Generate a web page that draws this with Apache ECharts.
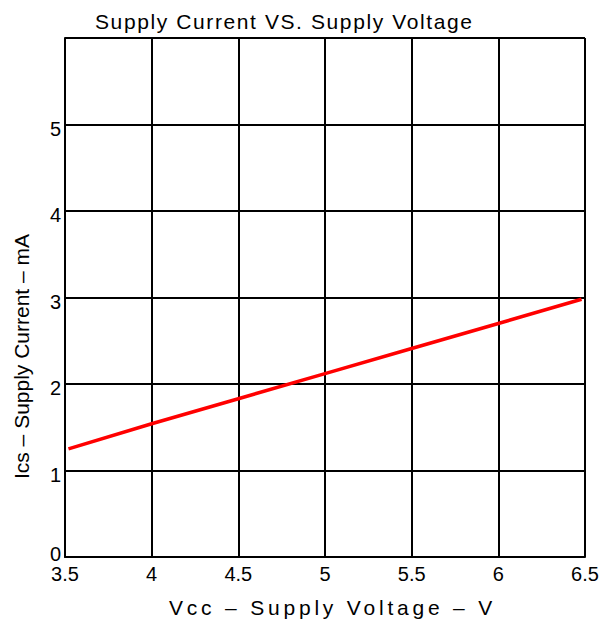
<!DOCTYPE html>
<html>
<head>
<meta charset="utf-8">
<script src="https://cdn.jsdelivr.net/npm/echarts@6/dist/echarts.min.js"></script>
<style>
  html, body { margin: 0; padding: 0; background: #fff; }
  #chart { width: 608px; height: 623px; }
</style>
</head>
<body>
<div id="chart"></div>
<script>
// supply voltage (V) and supply current (mA)
const vcc = [3.52, 4, 4.5, 5, 5.5, 6, 6.48];
const icc = [1.25, 1.54, 1.83, 2.12, 2.41, 2.70, 2.98];

const titleText = 'Supply Current VS. Supply Voltage';
const xName = 'Vcc \u2013 Supply Voltage \u2013 V';
const yName = 'Ics \u2013 Supply Current \u2013 mA';

const font = 'Liberation Sans, Arial, sans-serif';

const chart = echarts.init(document.getElementById('chart'), null, { renderer: 'svg' });

chart.setOption({
    animation: false,
    backgroundColor: '#fff',
    title: {
        text: titleText,
        left: 90,
        top: 6,
        textStyle: { fontFamily: font, fontSize: 21, fontWeight: 'normal', color: '#000' }
    },
    grid: { left: 65, right: 23, top: 38, bottom: 63 },
    xAxis: {
        type: 'value',
        min: 3.5,
        max: 6.5,
        interval: 0.5,
        name: xName,
        nameLocation: 'middle',
        nameGap: 40,
        nameTextStyle: { fontFamily: font, fontSize: 21, color: '#000', padding: [0, 0, 0, 15] },
        axisLine: { lineStyle: { color: '#000', width: 2 } },
        axisTick: { show: false },
        axisLabel: { fontFamily: font, fontSize: 20, color: '#000', margin: 7 },
        splitLine: { show: true, lineStyle: { color: '#000', width: 2 } }
    },
    yAxis: {
        type: 'value',
        min: 0,
        max: 6,
        interval: 1,
        name: yName,
        nameLocation: 'middle',
        nameGap: 33,
        nameTextStyle: { fontFamily: font, fontSize: 21, color: '#000', padding: [0, 118, 0, 0] },
        axisLine: { show: true, lineStyle: { color: '#000', width: 2 } },
        axisTick: { show: false },
        axisLabel: {
            fontFamily: font, fontSize: 20, color: '#000', margin: 4,
            formatter: v => (v === 6 ? '' : v === 0 ? '{z|0}' : '{d|' + v + '}'),
            rich: {
                z: { fontFamily: font, fontSize: 20, color: '#000', padding: [0, 0, 6, 0] },
                d: { fontFamily: font, fontSize: 20, color: '#000', padding: [8, 0, 0, 0] }
            }
        },
        splitLine: { show: true, lineStyle: { color: '#000', width: 2 } }
    },
    series: [{
        type: 'line',
        data: vcc.map((v, i) => [v, icc[i]]),
        showSymbol: false,
        lineStyle: { color: '#ff0000', width: 3.5 },
        z: 5
    }]
});

// the original lettering is widely spaced; svg text takes letter-spacing
const spacing = {};
spacing[titleText] = '1.6px';
spacing[xName] = '3.8px';
function applySpacing() {
    document.querySelectorAll('#chart text').forEach(t => {
        const s = spacing[t.textContent];
        if (s) t.setAttribute('letter-spacing', s);
    });
}
applySpacing();
chart.on('finished', applySpacing);
</script>
</body>
</html>
